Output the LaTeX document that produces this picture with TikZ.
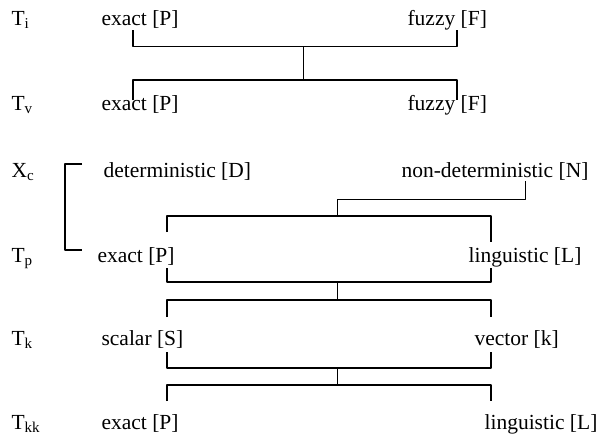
\documentclass[tikz,border=0pt]{standalone}
\usepackage{fontspec}
\setmainfont{Liberation Serif}
\begin{document}
\begin{tikzpicture}[x=1pt, y=-1pt, line join=round, line width=1.1pt,
	txt/.style={anchor=base west, inner sep=0pt, font=\fontsize{21.5}{24}\selectfont}]
			\useasboundingbox (0,0) rectangle (605,439);
			% row labels
			\foreach \n/\y/\t in {Ti/25/{T\textsubscript{i}}, Tv/110/{T\textsubscript{v}}, Xc/177/{X\textsubscript{c}},
				Tp/262/{T\textsubscript{p}}, Tk/345/{T\textsubscript{k}}, Tkk/429/{T\textsubscript{kk}}}
				\node[txt] (\n) at (11,\y) {\t};
			% items
			\node[txt] (ie) at (101,25) {exact [P]};
			\node[txt] (if) at (407,25) {fuzzy [F]};
			\node[txt] (ve) at (101,110) {exact [P]};
			\node[txt] (vf) at (407,110) {fuzzy [F]};
			\node[txt] (cd) at (103,177) {deterministic [D]};
			\node[txt] (cn) at (401,177) {non-deterministic [N]};
			\node[txt] (pe) at (97,262) {exact [P]};
			\node[txt] (pl) at (468,262) {linguistic [L]};
			\node[txt] (ks) at (101,345) {scalar [S]};
			\node[txt] (kv) at (474,345) {vector [k]};
			\node[txt] (kke) at (101,429) {exact [P]};
			\node[txt] (kkl) at (484,429) {linguistic [L]};
			% T_i -- T_v
			\coordinate (i1) at (133,30); \coordinate (i2) at (457,30);
			\coordinate (v1) at (133,100); \coordinate (v2) at (457,100);
			\coordinate (iv) at (303.6,46.7);
			\draw (i1) |- (iv) -| (i2);
			\draw (iv) -- ++(0,33.3) coordinate (vi);
			\draw (v1) |- (vi) -| (v2);
			% X_c bracket
			\coordinate (b1) at (82,164); \coordinate (b2) at (82,250);
			\draw (b1) -- ++(-17,0) |- (b2);
			% non-deterministic -- T_p
			\coordinate (n1) at (525.5,181);
			\coordinate (np) at (337.6,199.3);
			\draw (n1) |- (np) -- ++(0,16.7) coordinate (pt);
			\coordinate (p1) at (167,232); \coordinate (p2) at (491,242);
			\draw (p1) |- (pt) -| (p2);
			% T_p -- T_k
			\coordinate (p3) at (167,268); \coordinate (p4) at (491,268);
			\coordinate (pk) at (337.6,282);
			\draw (p3) |- (pk) -| (p4);
			\draw (pk) -- ++(0,18) coordinate (kt);
			\coordinate (k1) at (167,317); \coordinate (k2) at (491,317);
			\draw (k1) |- (kt) -| (k2);
			% T_k -- T_kk
			\coordinate (k3) at (167,352); \coordinate (k4) at (491,352);
			\coordinate (kk) at (337.6,368);
			\draw (k3) |- (kk) -| (k4);
			\draw (kk) -- ++(0,17) coordinate (kkt);
			\coordinate (k5) at (167,401); \coordinate (k6) at (491,401);
			\draw (k5) |- (kkt) -| (k6);
	\end{tikzpicture}
\end{document}
